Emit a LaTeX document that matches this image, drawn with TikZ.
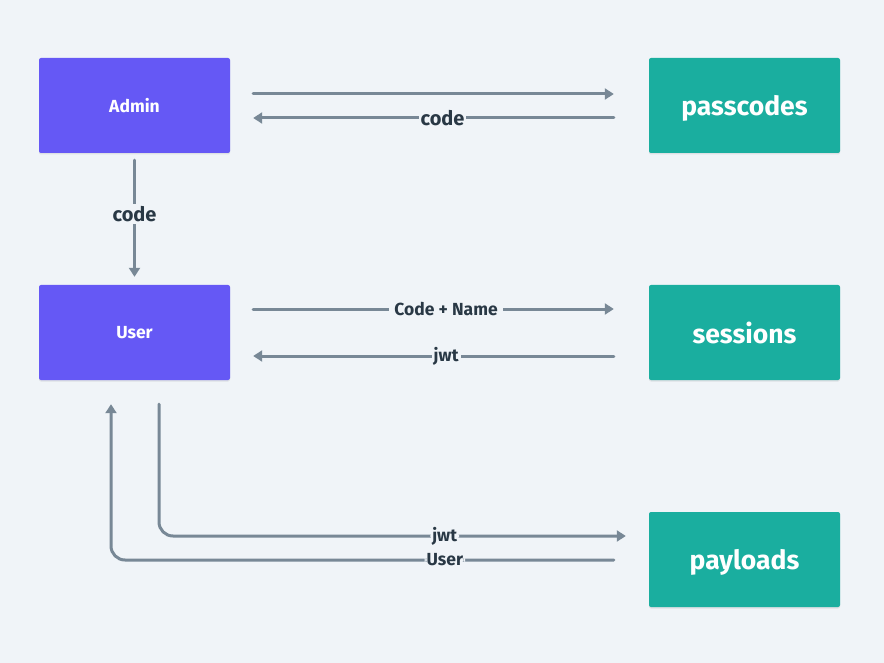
\documentclass[tikz,border=0pt]{standalone}
\usepackage{fontspec}
\setmainfont{Fira Sans}
\usetikzlibrary{arrows.meta,shadows}

\definecolor{bgcol}{HTML}{F0F4F8}
\definecolor{admincol}{HTML}{6558F5}
\definecolor{tablecol}{HTML}{1AAE9F}
\definecolor{flowcol}{HTML}{788896}
\definecolor{labelcol}{HTML}{293845}

\tikzset{
  box/.style={minimum width=191pt,minimum height=95pt,inner sep=0pt,
    rounded corners=2pt,text=white,font=\bfseries,
    drop shadow={shadow xshift=0pt,shadow yshift=-1.5pt,fill=black,opacity=0.08}},
  actor/.style={box,fill=admincol,font=\fontsize{17.5}{20}\selectfont\bfseries},
  table/.style={box,fill=tablecol,text depth=0pt,font=\fontsize{26.5}{30}\selectfont\bfseries},
  flow/.style={draw=flowcol,line width=3pt,line cap=round,-{Triangle[width=11pt,length=9pt]}},
  lbl/.style={fill=bgcol,text=labelcol,inner sep=2pt,font=\fontsize{17.5}{20}\selectfont\bfseries}
}

\begin{document}
\begin{tikzpicture}[x=1pt,y=-1pt]
  \useasboundingbox[fill=bgcol] (0,0) rectangle (884,663);

  % actors
  \node[actor] (admin) at (134.5,105.5) {Admin};
  \node[actor] (user) at (134.5,332.5) {User};

  % tables
  \node[table] (passcodes) at (744.5,105.5) {passcodes};
  \node[table] (sessions) at (744.5,332.5) {sessions};
  \node[table] (payloads) at (744.5,559.5) {payloads};

  % admin <-> passcodes
  \draw[flow] ([xshift=23pt,yshift=11.5pt]admin.east) -- ([xshift=-35pt,yshift=11.5pt]passcodes.west);
  \draw[flow] ([xshift=-35pt,yshift=-12.5pt]passcodes.west) -- node[lbl,pos=0.475,font=\fontsize{20}{22}\selectfont\bfseries]{code} ([xshift=23pt,yshift=-12.5pt]admin.east);

  % admin -> user
  \draw[flow] ([yshift=-7pt]admin.south) -- node[lbl,pos=0.46,font=\fontsize{20}{22}\selectfont\bfseries]{code} ([yshift=8pt]user.north);

  % user <-> sessions
  \draw[flow] ([xshift=23pt,yshift=23.5pt]user.east) -- node[lbl,pos=0.535,inner xsep=5pt]{Code + Name} ([xshift=-35pt,yshift=23.5pt]sessions.west);
  \draw[flow] ([xshift=-35pt,yshift=-23.5pt]sessions.west) -- node[lbl,pos=0.465]{jwt} ([xshift=23pt,yshift=-23.5pt]user.east);

  % user <-> payloads
  \draw[flow,rounded corners=14pt] ([xshift=24.5pt,yshift=-24pt]user.south) |- node[lbl,pos=0.806]{jwt} ([xshift=-23pt,yshift=23.5pt]payloads.west);
  \draw[flow,rounded corners=14pt] ([xshift=-35pt,yshift=-0.5pt]payloads.west) -| node[lbl,pos=0.168]{User} ([xshift=-23.5pt,yshift=-24pt]user.south);
\end{tikzpicture}
\end{document}
